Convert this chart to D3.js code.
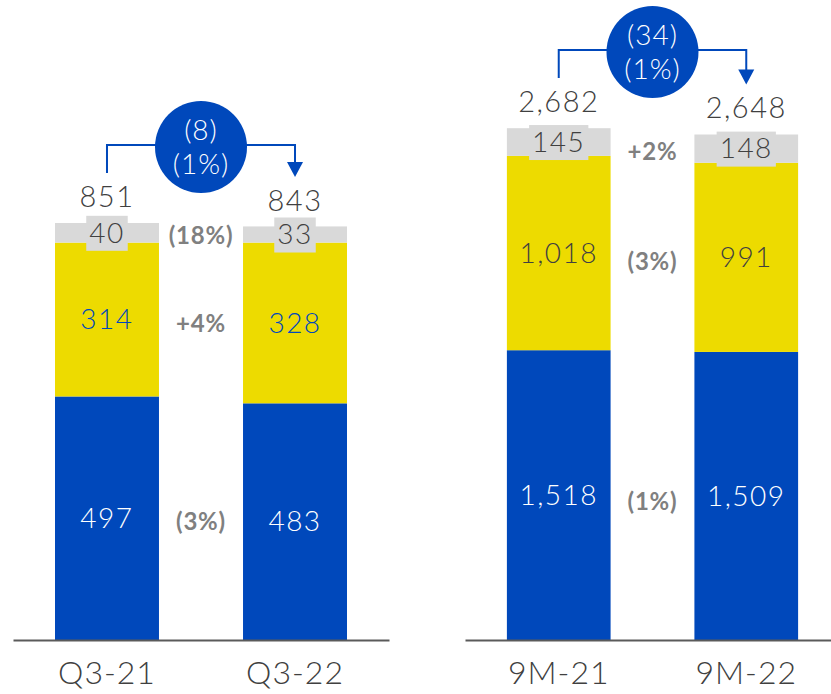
<!DOCTYPE html>
<html>
<head>
<meta charset="utf-8">
<script src="https://cdn.jsdelivr.net/npm/d3@7"></script>
<style>
  body { margin: 0; background: #fff; }
  svg { display: block; font-family: "Lato", "Open Sans", sans-serif; }
</style>
</head>
<body>
<svg id="chart" width="831" height="694"></svg>
<script>
// data
var quarterCats = ["Q3-21", "Q3-22"];
var quarterBlue = [497, 483];
var quarterYellow = [314, 328];
var quarterGray = [40, 33];
var quarterTotals = [851, 843];
var quarterDeltas = ["(3%)", "+4%", "(18%)"];
var quarterChange = ["(8)", "(1%)"];

var nineCats = ["9M-21", "9M-22"];
var nineBlue = [1518, 1509];
var nineYellow = [1018, 991];
var nineGray = [145, 148];
var nineTotals = [2682, 2648];
var nineDeltas = ["(1%)", "(3%)", "+2%"];
var nineChange = ["(34)", "(1%)"];

var blue = "#0048bb"
  , yellow = "#eddb00"
  , gray = "#d9d9d9"
  , dark = "#404040"
  , deltaGray = "#808080"
  , baseline = 640;

var fmt = d3.format(",");
var svg = d3.select("#chart");

function panel(opts) {
  var g = svg.append("g");

  var x = d3.scaleBand()
      .domain(opts.cats)
      .range(opts.xRange)
      .paddingInner(0.447)
      .paddingOuter(0.2234);

  var y = d3.scaleLinear()
      .domain([0, opts.totals[0]])
      .range([baseline, opts.topY]);

  var rows = opts.cats.map(function(c, i) {
    return {cat: c, blue: opts.blue[i], yellow: opts.yellow[i], gray: opts.gray[i], total: opts.totals[i]};
  });
  var keys = ["blue", "yellow", "gray"];
  var fills = {blue: blue, yellow: yellow, gray: gray};
  var labelFill = {blue: "#fff", yellow: opts.yellowText, gray: dark};
  var stacked = d3.stack().keys(keys)(rows);

  var layers = g.selectAll("g.layer")
      .data(stacked)
    .enter().append("g")
      .attr("class", "layer");

  layers.selectAll("rect")
      .data(function(d) { return d.map(function(p) { p.key = d.key; return p; }); })
    .enter().append("rect")
      .attr("x", function(d) { return x(d.data.cat); })
      .attr("y", function(d) { return y(d[1]); })
      .attr("width", x.bandwidth())
      .attr("height", function(d) { return y(d[0]) - y(d[1]); })
      .style("fill", function(d) { return fills[d.key]; });

  // segment labels
  layers.each(function(layer) {
    var lg = d3.select(this);
    layer.forEach(function(d) {
      var cx = x(d.data.cat) + x.bandwidth() / 2
        , cy = (y(d[0]) + y(d[1])) / 2;
      var t = lg.append("text")
          .attr("x", cx)
          .attr("y", cy)
          .attr("dy", "0.35em")
          .style("text-anchor", "middle")
          .style("font-size", "28px")
          .style("font-weight", 300)
          .style("letter-spacing", "1.5px")
          .style("fill", labelFill[layer.key])
          .text(fmt(d[1] - d[0]));
      if (layer.key == "gray" && (y(d[0]) - y(d[1])) < 30) {
        var bb = t.node().getBBox();
        lg.insert("rect", function() { return t.node(); })
          .attr("x", bb.x - 3)
          .attr("y", cy - 17)
          .attr("width", bb.width + 6)
          .attr("height", 35)
          .style("fill", gray);
      }
    });
  });

  // totals
  g.selectAll("text.total")
      .data(rows)
    .enter().append("text")
      .attr("class", "total")
      .attr("x", function(d) { return x(d.cat) + x.bandwidth() / 2; })
      .attr("y", function(d) { return y(d.total) - 16; })
      .style("text-anchor", "middle")
      .style("font-size", "29px")
      .style("font-weight", 300)
      .style("letter-spacing", "1.5px")
      .style("fill", dark)
      .text(function(d) { return fmt(d.total); });

  // deltas between bars
  var midX = (x(opts.cats[0]) + x.bandwidth() + x(opts.cats[1])) / 2;
  stacked.forEach(function(layer, k) {
    var cy = d3.mean(layer, function(d) { return (y(d[0]) + y(d[1])) / 2; }) + opts.deltaShift;
    g.append("text")
      .attr("x", midX)
      .attr("y", cy)
      .attr("dy", "0.35em")
      .style("text-anchor", "middle")
      .style("font-size", "24px")
      .style("font-weight", 700)
      .style("letter-spacing", "0.8px")
      .style("fill", deltaGray)
      .text(opts.deltas[k]);
  });

  // axis
  var axis = g.append("g")
      .attr("transform", "translate(0," + baseline + ")")
      .call(d3.axisBottom(x).tickSize(0).tickSizeOuter(0).tickPadding(21));
  axis.select(".domain").style("stroke", "#5a5a5a").style("stroke-width", 2);
  axis.selectAll("text")
      .style("font-family", "Lato, 'Open Sans', sans-serif")
      .style("font-size", "32px")
      .style("font-weight", 300)
      .style("letter-spacing", "1px")
      .style("fill", dark);

  // change bubble with bracket arrow
  var x0 = x(opts.cats[0]) + x.bandwidth() / 2
    , x1 = x(opts.cats[1]) + x.bandwidth() / 2
    , b0 = y(opts.totals[0]) - 16
    , b1 = y(opts.totals[1]) - 16
    , cy = b0 - 60
    , by = cy - 2
    , tip = b1 - 34;

  g.append("path")
      .attr("d", "M" + x0 + "," + (b0 - 34) + "V" + by + "H" + x1 + "V" + (tip - 12))
      .style("fill", "none")
      .style("stroke", blue)
      .style("stroke-width", 2);
  g.append("path")
      .attr("d", "M" + (x1 - 8) + "," + (tip - 15) + "L" + (x1 + 8) + "," + (tip - 15) + "L" + x1 + "," + tip + "Z")
      .style("fill", blue);
  g.append("circle")
      .attr("cx", midX)
      .attr("cy", cy)
      .attr("r", 46)
      .style("fill", blue);
  g.selectAll("text.change")
      .data(opts.change)
    .enter().append("text")
      .attr("class", "change")
      .attr("x", midX)
      .attr("y", function(d, i) { return cy - 17 + i * 34; })
      .attr("dy", "0.35em")
      .style("text-anchor", "middle")
      .style("font-size", "28px")
      .style("font-weight", 300)
      .style("letter-spacing", "1px")
      .style("fill", "#fff")
      .text(function(d) { return d; });
}

panel({
  cats: quarterCats, blue: quarterBlue, yellow: quarterYellow, gray: quarterGray,
  totals: quarterTotals, deltas: quarterDeltas, change: quarterChange,
  xRange: [13, 389], topY: 223, yellowText: blue, deltaShift: 2
});

panel({
  cats: nineCats, blue: nineBlue, yellow: nineYellow, gray: nineGray,
  totals: nineTotals, deltas: nineDeltas, change: nineChange,
  xRange: [465, 840], topY: 128, yellowText: dark, deltaShift: 6
});
</script>
</body>
</html>
